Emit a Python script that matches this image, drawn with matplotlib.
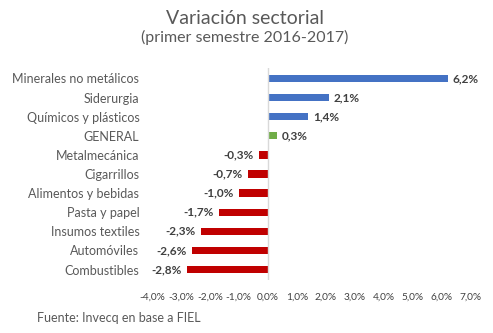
import matplotlib
matplotlib.use("Agg")
import matplotlib.pyplot as plt
from matplotlib.ticker import FuncFormatter

sectores = ["Minerales no metálicos", "Siderurgia", "Químicos y plásticos", "GENERAL",
            "Metalmecánica", "Cigarrillos", "Alimentos y bebidas", "Pasta y papel",
            "Insumos textiles", "Automóviles", "Combustibles"]
variacion = [6.2, 2.1, 1.4, 0.3, -0.3, -0.7, -1.0, -1.7, -2.3, -2.6, -2.8]
ticks = [-4, -3, -2, -1, 0, 1, 2, 3, 4, 5, 6, 7]

plt.rcParams['font.family'] = ['Lato', 'DejaVu Sans']
gris = '#595959'

colores = []
for s, v in zip(sectores, variacion):
    if s == "GENERAL":
        colores.append('#70AD47')
    elif v > 0:
        colores.append('#4472C4')
    else:
        colores.append('#C00000')

fig = plt.figure(figsize=(4.93, 3.33), dpi=100)
ax = fig.add_axes([0.308, 0.159, 0.647, 0.637])
pos = list(range(len(sectores)))
ax.barh(pos, variacion, height=0.38, color=colores)
ax.set_ylim(len(sectores) - 0.45, -0.55)
ax.set_xlim(-4, 7)
ax.set_yticks(pos)
ax.set_yticklabels(sectores, fontsize=9, color=gris)
ax.set_xticks(ticks)
ax.xaxis.set_major_formatter(FuncFormatter(lambda x, p: ("%.1f%%" % x).replace('.', ',')))
ax.tick_params(axis='x', labelsize=7.3, colors='#404040', length=0, pad=9)
ax.tick_params(axis='y', length=0, pad=9)
for side in ['top', 'right', 'bottom', 'left']:
    ax.spines[side].set_visible(False)
ax.axvline(0, color='#d9d9d9', lw=1)

for p, v in zip(pos, variacion):
    txt = ("%.1f%%" % v).replace('.', ',')
    if v >= 0:
        ax.text(v + 0.18, p, txt, va='center', ha='left', fontsize=8.5, fontweight='bold', color='#404040')
    else:
        ax.text(v - 0.18, p, txt, va='center', ha='right', fontsize=8.5, fontweight='bold', color='#404040')

fig.text(0.497, 0.945, "Variación sectorial", ha='center', va='center', fontsize=14, color=gris)
fig.text(0.497, 0.888, "(primer semestre 2016-2017)", ha='center', va='center', fontsize=11.5, color=gris)
fig.text(0.075, 0.045, "Fuente: Invecq en base a FIEL", ha='left', va='center', fontsize=9, color=gris)

fig.savefig("out.png", dpi=100)
